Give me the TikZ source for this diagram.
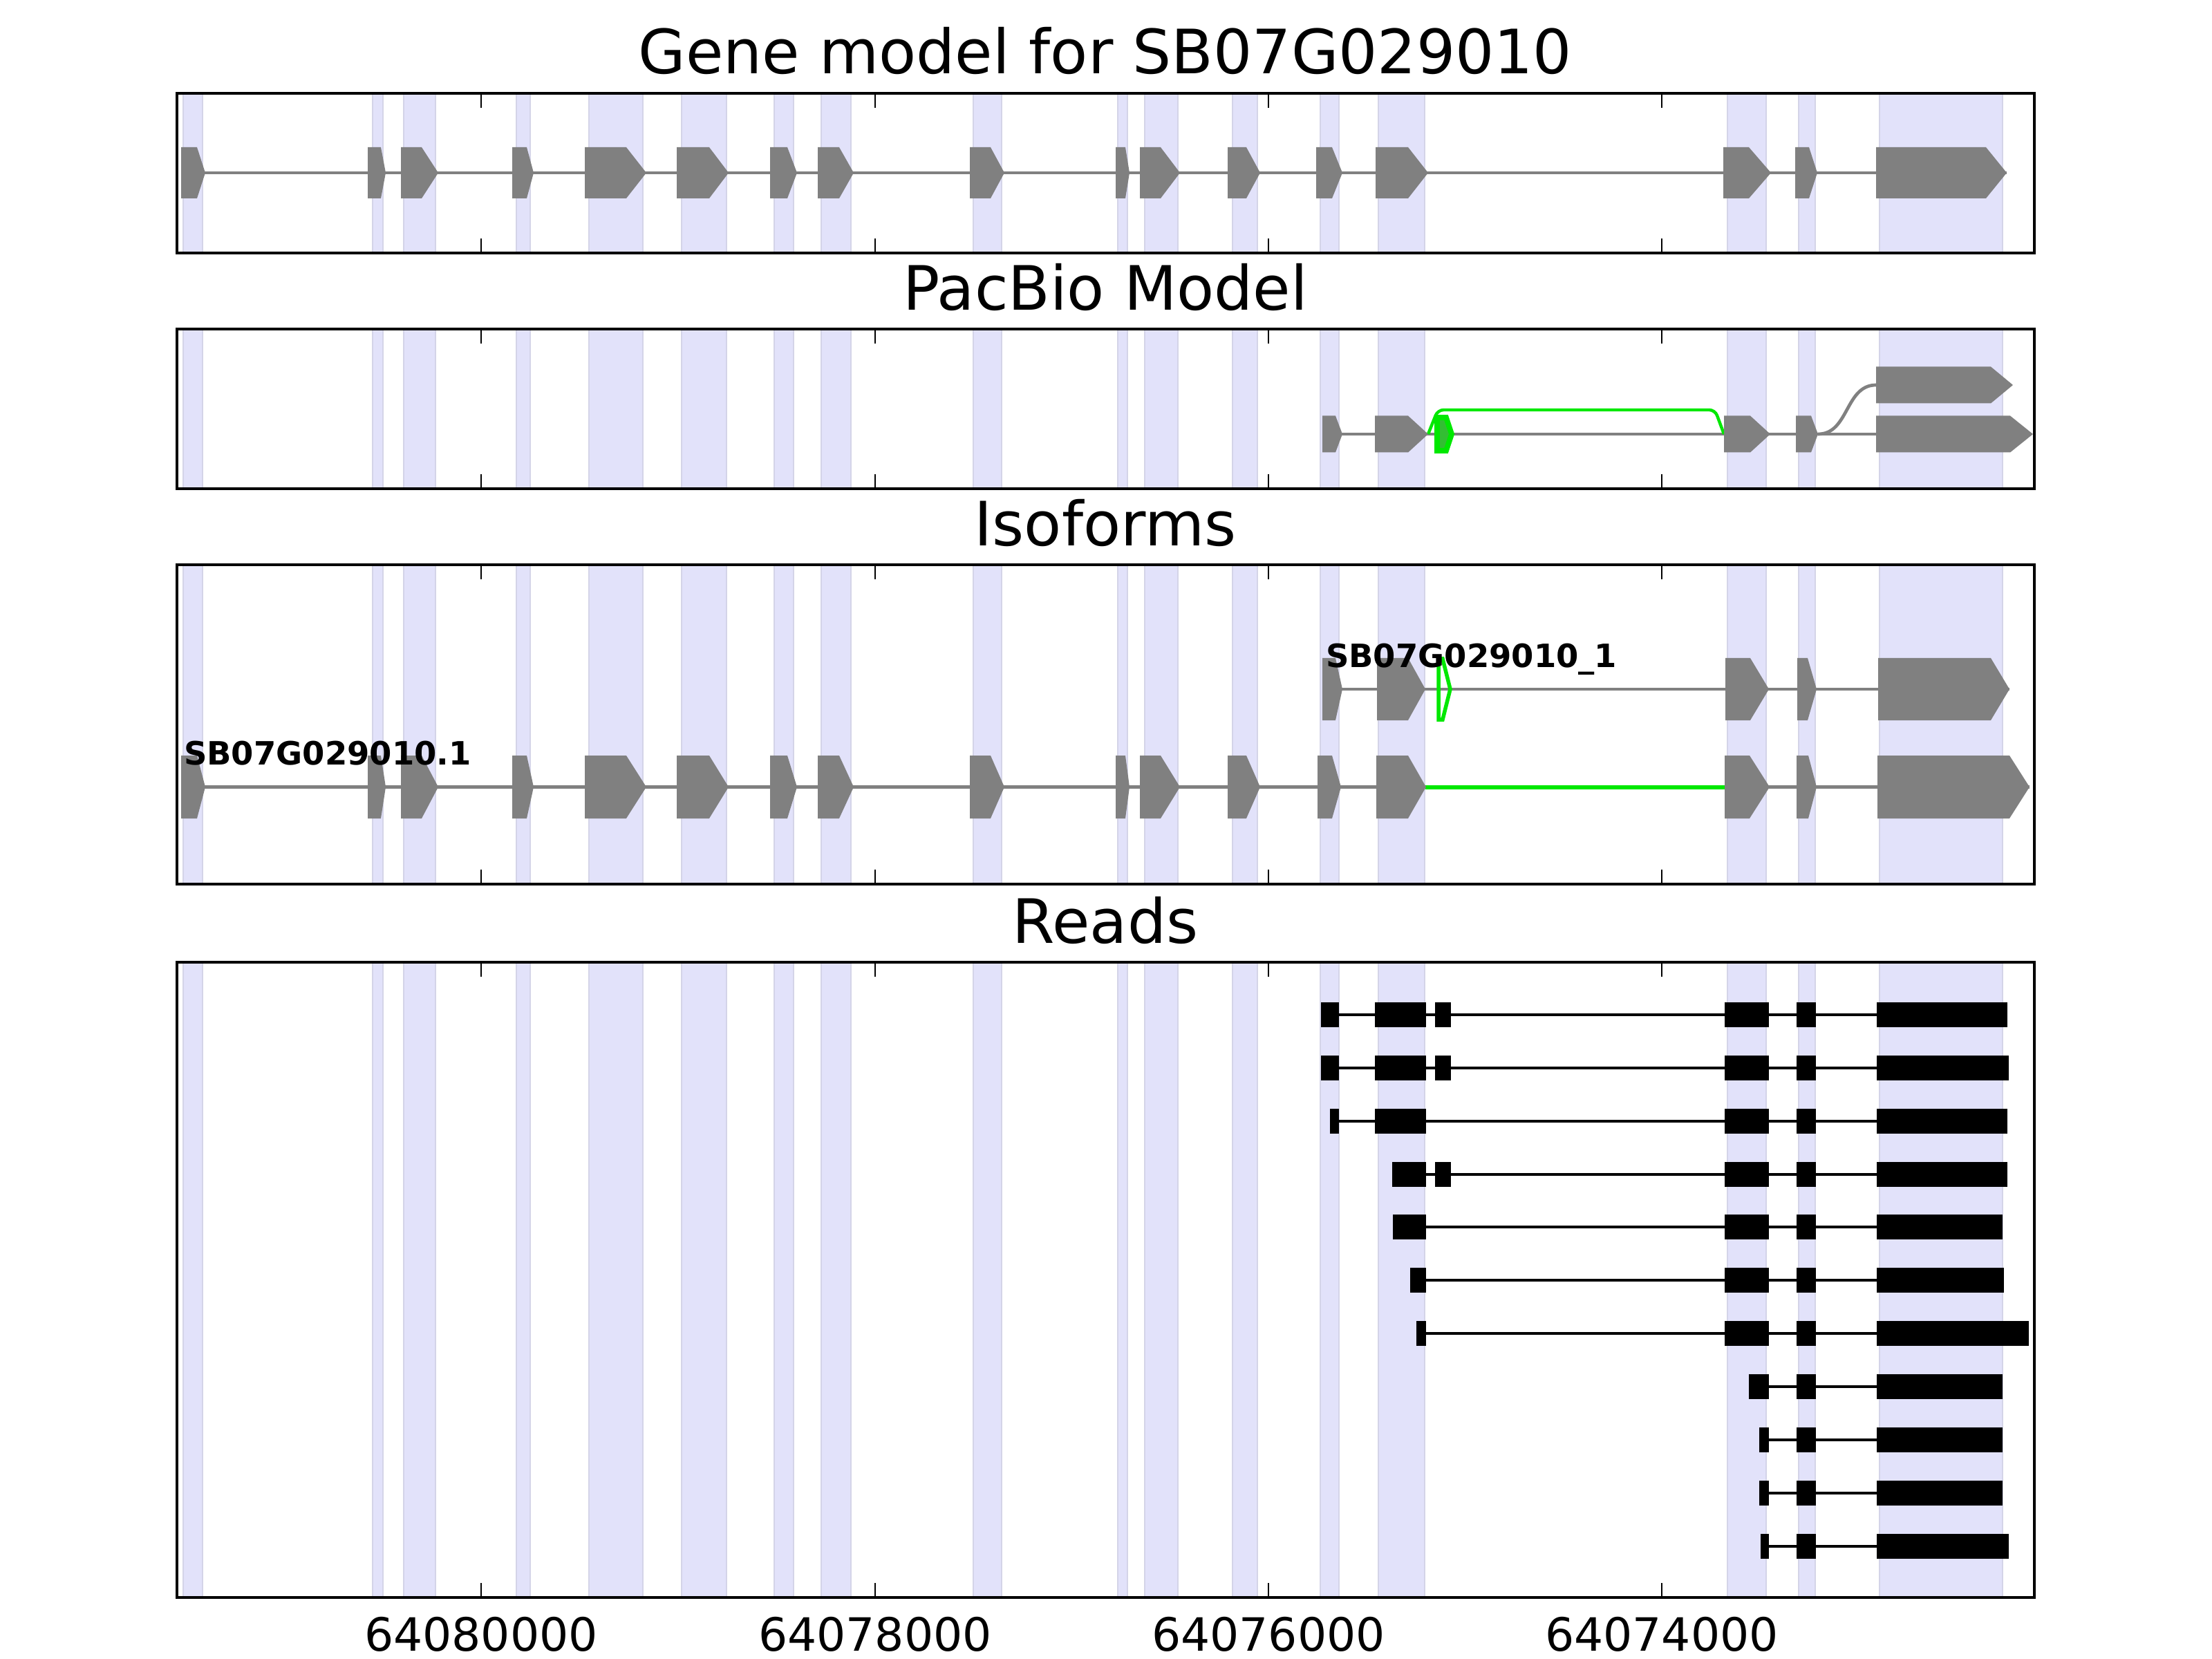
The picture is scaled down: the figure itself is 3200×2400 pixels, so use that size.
\documentclass[tikz,border=0pt]{standalone}
\usepackage{fontspec}
\setmainfont{DejaVu Sans}
\definecolor{band}{RGB}{226,226,250}
\definecolor{bandedge}{RGB}{212,212,232}
\definecolor{exgray}{RGB}{128,128,128}
\definecolor{lime}{RGB}{0,232,0}
\newcommand\GMexon[5]{\fill[exgray] (#3,#1-#2) -- (#4,#1-#2) -- (#5,#1) -- (#4,#1+#2) -- (#3,#1+#2) -- cycle;}
\newcommand\GMread[3]{\fill[black] (#2,#1-18) rectangle (#3,#1+18);}
\tikzset{
  intron/.style={exgray, line width=0.85pt},
  readline/.style={black, line width=0.85pt},
  frame/.style={black, line width=0.85pt},
  tickmark/.style={black, line width=0.5pt},
  titletext/.style={anchor=base, inner sep=0pt, font=\fontsize{16}{19}\selectfont},
  ticktext/.style={anchor=base, inner sep=0pt, font=\fontsize{12}{14}\selectfont},
  isolabel/.style={anchor=base west, inner sep=0pt, font=\bfseries\fontsize{8.4}{10}\selectfont},
}
\begin{document}
\begin{tikzpicture}[x=0.0025in, y=-0.0025in]
\useasboundingbox (0,0) rectangle (3200,2400);
\fill[white] (0,0) rectangle (3200,2400);
% bands
\foreach \t/\bt in {135/366, 476/707, 817/1279, 1392/2311}{
  \foreach \a/\b in {265/293, 539/554, 584/630, 747/767, 852/930, 986/1051, 1120/1148, 1188/1231, 1408/1449, 1617/1631, 1656/1704, 1783/1819, 1910/1937, 1994/2061, 2499/2555, 2602/2626, 2719/2897}{
    \fill[band] (\a,\t) rectangle (\b,\bt);
    \draw[bandedge, line width=0.4pt] (\a,\t) -- (\a,\bt) (\b,\t) -- (\b,\bt);
  }
}
% Panel 1: gene model
\draw[intron] (262,250) -- (2903,250);
\foreach \s/\r/\p in {262/285/297, 532/551/558, 580/610/634, 741/762/772, 846/906/935, 979/1026/1054, 1114/1139/1153, 1183/1214/1235, 1403/1433/1453, 1614/1628/1634, 1649/1679/1707, 1776/1803/1823, 1904/1927/1942, 1990/2037/2066, 2493/2530/2562, 2597/2617/2629, 2714/2873/2903}{
  \GMexon{250}{37}{\s}{\r}{\p}
}
% Panel 2: PacBio
\draw[intron] (1913,628) -- (2714,628);
\draw[intron] (2630,628) .. controls (2675,628) and (2669,557) .. (2714,557);
\draw[lime, line width=0.8pt, rounded corners=1.5pt] (2066,628) -- (2080,593) -- (2481,593) -- (2494,628);
\foreach \s/\r/\p in {1913/1932/1942, 1989/2037/2066, 2494/2532/2561, 2598/2620/2630, 2714/2908/2941}{
  \GMexon{628}{26.5}{\s}{\r}{\p}
}
\GMexon{557}{26.5}{2714}{2880}{2912}
\filldraw[fill=lime!60!exgray, draw=lime, line width=1.4pt, line join=miter] (2079,604) -- (2092,604) -- (2100,628) -- (2092,652) -- (2079,652) -- cycle;
% Panel 3: isoforms
\draw[intron] (262,1138.5) -- (2936,1138.5);
\draw[lime, line width=1pt] (2062,1139) -- (2497,1139);
\foreach \s/\r/\p in {262/285/297, 532/551/558, 580/610/634, 741/762/772, 846/906/935, 979/1026/1054, 1114/1139/1153, 1183/1214/1235, 1403/1433/1453, 1614/1628/1634, 1649/1679/1707, 1776/1803/1823, 1906/1927/1940, 1991/2037/2063, 2495/2531/2560, 2599/2616/2628, 2716/2907/2936}{
  \GMexon{1138.5}{45.5}{\s}{\r}{\p}
}
\draw[intron] (1913,997) -- (2907,997);
\foreach \s/\r/\p in {1913/1932/1942, 1992/2037/2062, 2496/2532/2559, 2600/2615/2628, 2717/2880/2907}{
  \GMexon{997}{45}{\s}{\r}{\p}
}
\draw[lime, line width=1pt, line join=miter] (2081,953) -- (2087,953) -- (2098,997) -- (2087,1041) -- (2081,1041) -- cycle;
\node[isolabel] (lab1) at (265,1107) {SB07G029010.1};
\node[isolabel] (lab2) at (1917,965) {SB07G029010\_1};
% Panel 4: reads
\foreach \y/\lst in {
  1468/{1911/1937,1989/2063,2076/2099,2495/2559,2599/2627,2715/2904},
  1545/{1911/1937,1989/2063,2076/2099,2495/2559,2599/2627,2715/2906},
  1622/{1924/1937,1989/2063,2495/2559,2599/2627,2715/2904},
  1699/{2014/2063,2076/2099,2495/2559,2599/2627,2715/2904},
  1775/{2015/2063,2495/2559,2599/2627,2715/2897},
  1852/{2040/2063,2495/2559,2599/2627,2715/2899},
  1929/{2049/2063,2495/2559,2599/2627,2715/2935},
  2006/{2530/2559,2599/2627,2715/2897},
  2083/{2545/2559,2599/2627,2715/2897},
  2160/{2545/2559,2599/2627,2715/2897},
  2237/{2547/2559,2599/2627,2715/2906}}{
  \foreach \s/\e [count=\i] in \lst {
    \ifnum\i=1 \xdef\firstx{\s}\fi
    \xdef\lastx{\e}
    \GMread{\y}{\s}{\e}
  }
  \draw[readline] (\firstx,\y) -- (\lastx,\y);
}
% frames and ticks
\foreach \t/\bt in {135/366, 476/707, 817/1279, 1392/2311}{
  \foreach \x in {696,1266,1835,2404}{
    \draw[tickmark] (\x,\t) -- ++(0,21);
    \draw[tickmark] (\x,\bt) -- ++(0,-21);
  }
  \draw[frame] (256,\t) rectangle (2943,\bt);
}
% titles
\node[titletext] (t1) at (1599,107) {Gene model for SB07G029010};
\node[titletext] (t2) at (1599,449) {PacBio Model};
\node[titletext] (t3) at (1599,790) {Isoforms};
\node[titletext] (t4) at (1599,1364) {Reads};
% tick labels
\node[ticktext] (x1) at (696,2388) {64080000};
\node[ticktext] (x2) at (1266,2388) {64078000};
\node[ticktext] (x3) at (1835,2388) {64076000};
\node[ticktext] (x4) at (2404,2388) {64074000};
\end{tikzpicture}
\end{document}
